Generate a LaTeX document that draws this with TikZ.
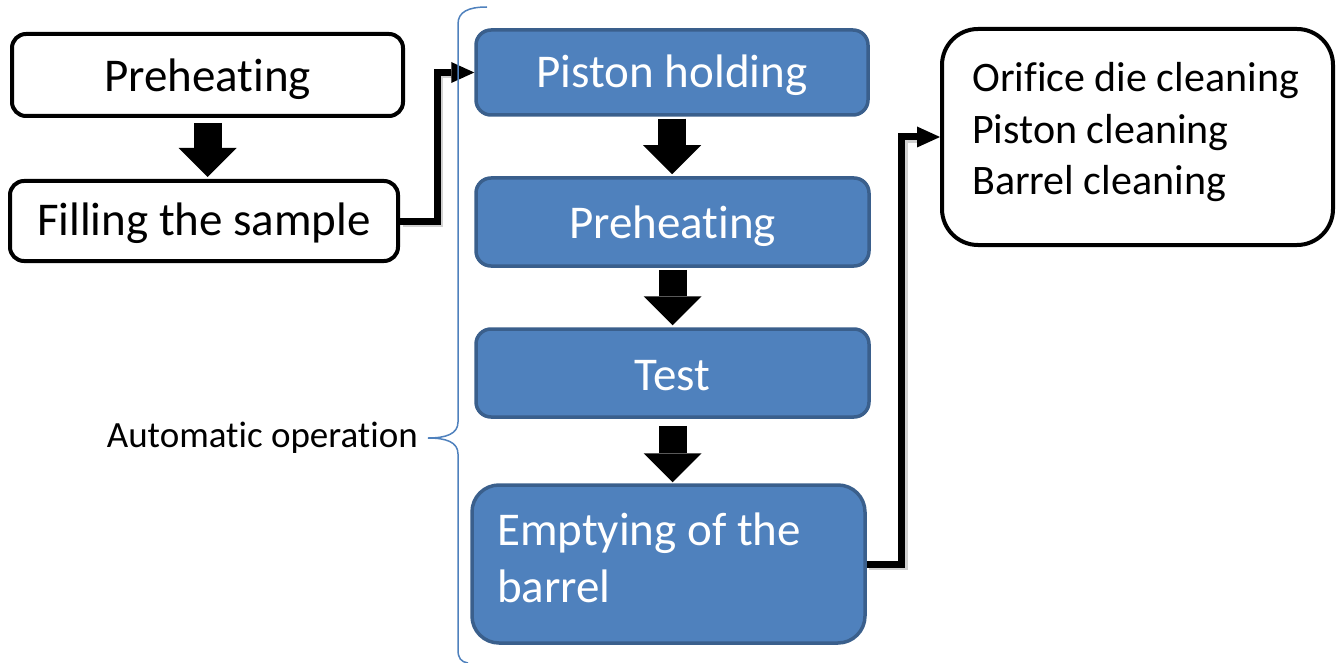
\documentclass[tikz,border=0pt]{standalone}
\usepackage{fontspec}
\setmainfont{Carlito}[Ligatures=CommonOff]
\usetikzlibrary{arrows.meta,calc}
\definecolor{boxblue}{HTML}{4F81BD}
\definecolor{boxedge}{HTML}{3A5F8C}
% keep the letter pairs t-i and f-i as separate glyphs
\newcommand\nolig{\kern0pt{}}
\begin{document}
\begin{tikzpicture}[x=1pt,y=-1pt,
  plainbox/.style={draw=black, line width=4pt, fill=white, rounded corners=14pt,
    inner sep=0pt, font=\fontsize{47}{56}\selectfont, text height=32pt, text depth=0pt},
  bluebox/.style={draw=boxedge, line width=3.5pt, fill=boxblue, text=white,
    rounded corners=15pt, inner sep=0pt, minimum width=393pt, minimum height=88pt,
    font=\fontsize{47}{56}\selectfont, text height=32pt, text depth=0pt},
  flowarrow/.style={line width=28pt,
    -{Triangle[length=29pt,width=58pt,line width=0pt]}},
  conn/.style={line width=7pt, line join=miter,
    -{Triangle[length=23pt,width=21pt,line width=0pt]}},
  connshadow/.style={line width=7pt, line join=miter, draw=black, opacity=0.18,
    transform canvas={shift={(2.5pt,-2.5pt)}}},
  brace/.style={draw=boxblue, line width=1.5pt}]
\useasboundingbox (0,0) rectangle (1340,663);

% manual steps
\node[plainbox, minimum width=391pt, minimum height=82pt, text height=34pt]
  (pre) at (207.5,75) {Preheat\nolig ing};
\node[plainbox, minimum width=388pt, minimum height=80pt, text height=28pt]
  (fill) at (204,221) {Filling the sample};

% automatic steps
\node[bluebox, minimum width=392pt, minimum height=85pt, text height=31pt]
  (hold) at (672,72.5) {Piston holding};
\node[bluebox] (heat) at (672.5,222) {Preheat\nolig ing};
\node[bluebox, text height=34pt] (test) at (672.5,373) {Test};
\node[bluebox, minimum height=158pt, rounded corners=27pt] (empty) at (668.5,564) {};
\node[anchor=base west, inner sep=0pt, text=white, font=\fontsize{47}{57}\selectfont]
  (emptytext) at (497,545) {\parbox[t]{360pt}{Emptying of the\\barrel}};

% cleaning
\node[plainbox, minimum width=391pt, minimum height=216pt, rounded corners=36pt]
  (clean) at (1137.5,137) {};
\node[anchor=base west, inner sep=0pt, font=\fontsize{42}{51.5}\selectfont]
  (cleantext) at (972,92) {\parbox[t]{350pt}{Orif\nolig ice die cleaning\\Piston cleaning\\Barrel cleaning}};

% block arrows
\draw[flowarrow, shorten <=5pt, shorten >=2pt] (pre.south) -- (pre.south |- fill.north);
\draw[flowarrow, shorten <=2pt, shorten >=2pt] (hold.south) -- (hold.south |- heat.north);
\draw[flowarrow, shorten <=2pt, shorten >=2pt] (heat.south) -- (heat.south |- test.north);
\draw[flowarrow, shorten <=7pt, shorten >=1pt] (test.south) -- (test.south |- empty.north);

% connectors, with a faint drop shadow
\draw[connshadow] (fill.east) -- ++(37,0) |- ([xshift=-22pt]hold.west);
\draw[connshadow] (empty.east) -- ++(35,0) |- ([xshift=-22pt]clean.west);
\draw[conn] (fill.east) -- ++(37,0) |- (hold.west);
\draw[conn] (empty.east) -- ++(35,0) |- (clean.west);

% brace
\draw[brace] (487,7) .. controls (468,7) and (458,12) .. (458,24)
  -- (458,422) .. controls (458,434) and (446,438) .. (428,438)
  .. controls (446,438) and (458,442) .. (458,454)
  -- (458,650) .. controls (458,658) and (461,662) .. (468,663);
\node[anchor=base east, inner sep=0pt, font=\fontsize{37}{44}\selectfont]
  (auto) at (418,447) {Automat\nolig ic operat\nolig ion};
\end{tikzpicture}
\end{document}
